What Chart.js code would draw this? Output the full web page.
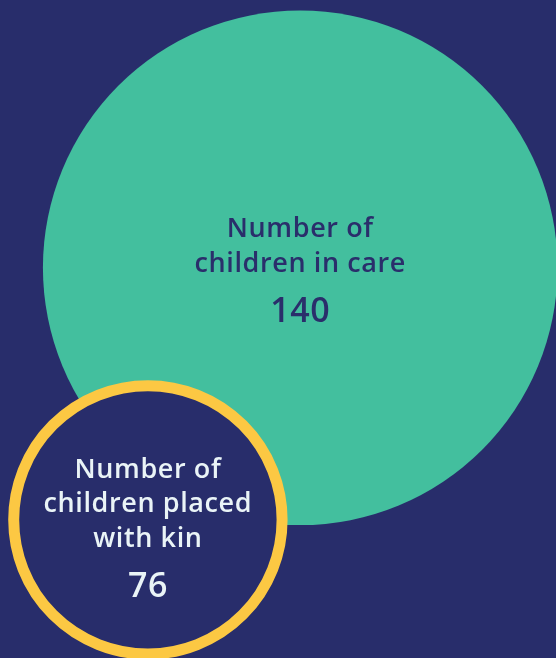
<!DOCTYPE html>
<html>
<head>
<meta charset="utf-8">
<script src="https://cdn.jsdelivr.net/npm/chart.js@4"></script>
<style>
  html, body { margin: 0; padding: 0; background: #282d6b; }
  #wrap { width: 556px; height: 658px; }
</style>
</head>
<body>
<div id="wrap"><canvas id="bubbleChart" width="556" height="658"></canvas></div>
<script>
// data
const labels = [['Number of', 'children in care'], ['Number of', 'children placed', 'with kin']];
const values = [140, 76];
// bubble centres in axis units (0-100 on both axes)
const xPos = [54, 26.6];
const yPos = [59.3, 21];

const fills = ['#43bf9e', '#282d6b'];
const borders = ['#43bf9e', '#fcc843'];
const borderWidths = [0, 11];
const textColors = ['#2a2e6b', '#eaf4f7'];
const textShift = [2, 8];

// radius is proportional to the value
const pxPerUnit = 658 / 358;

// text inside each bubble
const bubbleText = {
    id: 'bubbleText',
    afterDatasetsDraw(chart) {
        const ctx = chart.ctx;
        const meta = chart.getDatasetMeta(0);
        meta.data.forEach((pt, i) => {
            const lines = labels[i];
            const lh = 34.5;
            const blockTop = -19;
            const blockBottom = (lines.length - 1) * lh + 50;
            let y = pt.y - (blockTop + blockBottom) / 2 + textShift[i];
            ctx.save();
            ctx.fillStyle = textColors[i];
            ctx.textAlign = 'center';
            ctx.textBaseline = 'alphabetic';
            ctx.font = '600 27px "Open Sans"';
            ctx.letterSpacing = '0.6px';
            lines.forEach((l, j) => {
                ctx.fillText(l, pt.x, y + j * lh);
            });
            ctx.font = '600 34px "Open Sans"';
            ctx.letterSpacing = '0.5px';
            ctx.fillText(String(values[i]), pt.x, y + (lines.length - 1) * lh + 50);
            ctx.restore();
        });
    }
};

const ctx = document.getElementById('bubbleChart').getContext('2d');
new Chart(ctx, {
    type: 'bubble',
    data: {
        datasets: [{
            data: values.map((v, i) => ({ x: xPos[i], y: yPos[i], r: v * pxPerUnit - borderWidths[i] / 2 })),
            backgroundColor: fills,
            borderColor: borders,
            borderWidth: borderWidths,
            hoverBorderWidth: borderWidths,
            clip: false
        }]
    },
    options: {
        responsive: false,
        animation: false,
        events: [],
        layout: { padding: 0, autoPadding: false },
        plugins: {
            legend: { display: false },
            tooltip: { enabled: false }
        },
        scales: {
            x: { display: false, min: 0, max: 100 },
            y: { display: false, min: 0, max: 100 }
        }
    },
    plugins: [bubbleText]
});
</script>
</body>
</html>
